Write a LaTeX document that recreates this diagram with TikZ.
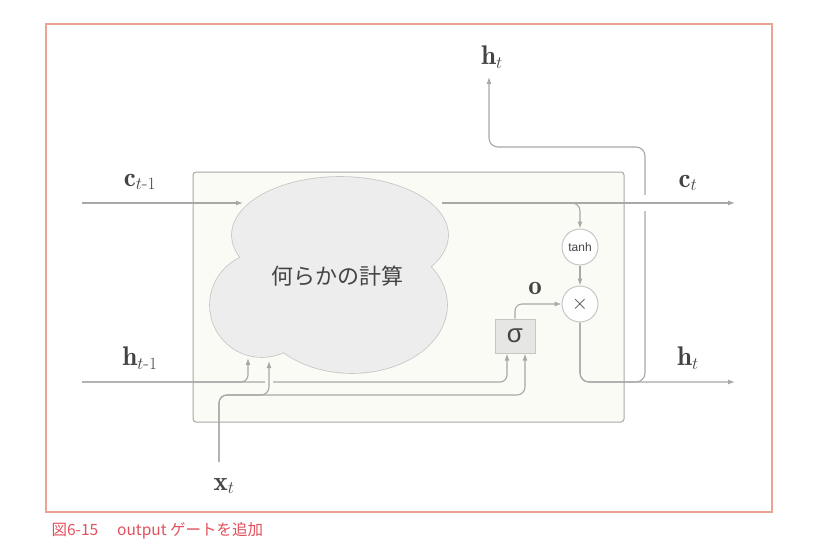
\documentclass[tikz,border=0pt]{standalone}
\usepackage{amsmath}
\usepackage{fontspec}
\newfontfamily\jpfont{Noto Sans CJK JP}
\newfontfamily\gatefont{Liberation Sans}
\usetikzlibrary{arrows.meta}

\definecolor{linegray}{HTML}{A8A8A8}
\definecolor{edgegray}{HTML}{C6C6C6}
\definecolor{cloudfill}{HTML}{EDEDED}
\definecolor{boxfill}{HTML}{FBFBF6}
\definecolor{sigfill}{HTML}{E6E6E4}
\definecolor{labelgray}{HTML}{444444}
\definecolor{framered}{HTML}{E8A596}
\definecolor{capred}{HTML}{E0505C}

\tikzset{
    flow/.style={draw=linegray, line width=1.1pt, -{Latex[length=7pt,width=5pt]}},
    gate/.style={circle, draw=edgegray, fill=white, line width=1pt,
        minimum size=36pt, inner sep=0pt, text=labelgray},
    sigbox/.style={rectangle, draw=edgegray, fill=sigfill, line width=1pt,
        minimum width=40pt, minimum height=34pt, inner sep=0pt, text=labelgray},
    lbl/.style={text=labelgray, font=\fontsize{27}{30}\selectfont, inner sep=0pt}
}

\begin{document}
\begin{tikzpicture}[x=1pt,y=-1pt]
    \useasboundingbox (0,0) rectangle (814,551);
    \draw[framered, line width=1.3pt] (46,24) rectangle (772,512);
    \node[anchor=west, text=capred, font=\jpfont\fontsize{15.5}{17}\selectfont] (caption) at (48,531) {図6-15\quad\ output ゲートを追加};
    \draw[draw=linegray, fill=boxfill, line width=1pt, rounded corners=3pt] (193,172) rectangle (624,422);

    % cloud
    \draw[edgegray, line width=1.6pt] (340,235) ellipse (108pt and 58pt);
    \draw[edgegray, line width=1.6pt] (262,305) circle (52pt);
    \draw[edgegray, line width=1.6pt] (352,305) ellipse (95pt and 68pt);
    \fill[cloudfill] (340,235) ellipse (108pt and 58pt);
    \fill[cloudfill] (262,305) circle (52pt);
    \fill[cloudfill] (352,305) ellipse (95pt and 68pt);
    \node[font=\jpfont\fontsize{22}{24}\selectfont, text=labelgray] (calc) at (337,276) {何らかの計算};

    \node[gate] (tanhg) at (580,247) {\gatefont\fontsize{12}{14}\selectfont tanh};
    \node[gate] (mul) at (580,304) {\fontsize{22}{22}\selectfont$\times$};
    \node[sigbox] (sig) at (515,336) {\gatefont\fontsize{26}{26}\selectfont σ};

    \node[lbl] (cprev) at (140,182) {$\mathbf{c}_{t\text{-}1}$};
    \node[lbl] (hprev) at (140,358) {$\mathbf{h}_{t\text{-}1}$};
    \node[lbl] (cnext) at (688,183) {$\mathbf{c}_{t}$};
    \node[lbl] (hnext) at (688,358) {$\mathbf{h}_{t}$};
    \node[lbl] (hout) at (492,57) {$\mathbf{h}_{t}$};
    \node[lbl] (xin) at (224,486) {$\mathbf{x}_{t}$};
    \node[lbl] (ogate) at (535,288) {$\mathbf{o}$};

    \coordinate (cstart) at (82,203);
    \coordinate (ccloud) at (243,203);
    \coordinate (cleave) at (442,203);
    \coordinate (cbranch) at (562,203);
    \coordinate (cend) at (735,203);
    \coordinate (hstart) at (82,382);
    \coordinate (hcloud) at (248,358);
    \coordinate (hend) at (735,382);
    \coordinate (hsplit) at (645,382);
    \coordinate (hturn) at (489,147);
    \coordinate (htip) at (489,77);
    \coordinate (xstart) at (219,462);
    \coordinate (xrow) at (219,395);
    \coordinate (xcloud) at (269,361);

    \draw[flow] (cstart) -- (ccloud);
    \draw[flow, rounded corners=9pt] (mul.south) |- (hsplit) |- (hturn) -- (htip);
    \fill[white] (639,195) rectangle (651,211);
    \draw[flow] (cleave) -- (cend);
    \draw[flow, rounded corners=8pt] (cbranch) -| (tanhg.north);
    \draw[flow] (tanhg) -- (mul);
    \draw[flow, rounded corners=7pt] (sig.north) |- (mul.west);
    \draw[flow, rounded corners=9pt] (mul.south) |- (hend);

    \draw[flow, rounded corners=7pt] (hstart) -| (hcloud);
    \draw[flow, rounded corners=7pt] (hstart) -| ([xshift=-8pt]sig.south);
    \fill[boxfill] (265,379) rectangle (273,385);
    \draw[flow, rounded corners=8pt] (xstart) -- (xrow) -| (xcloud);
    \draw[flow, rounded corners=8pt] (xstart) -- (xrow) -| ([xshift=10pt]sig.south);
\end{tikzpicture}
\end{document}
